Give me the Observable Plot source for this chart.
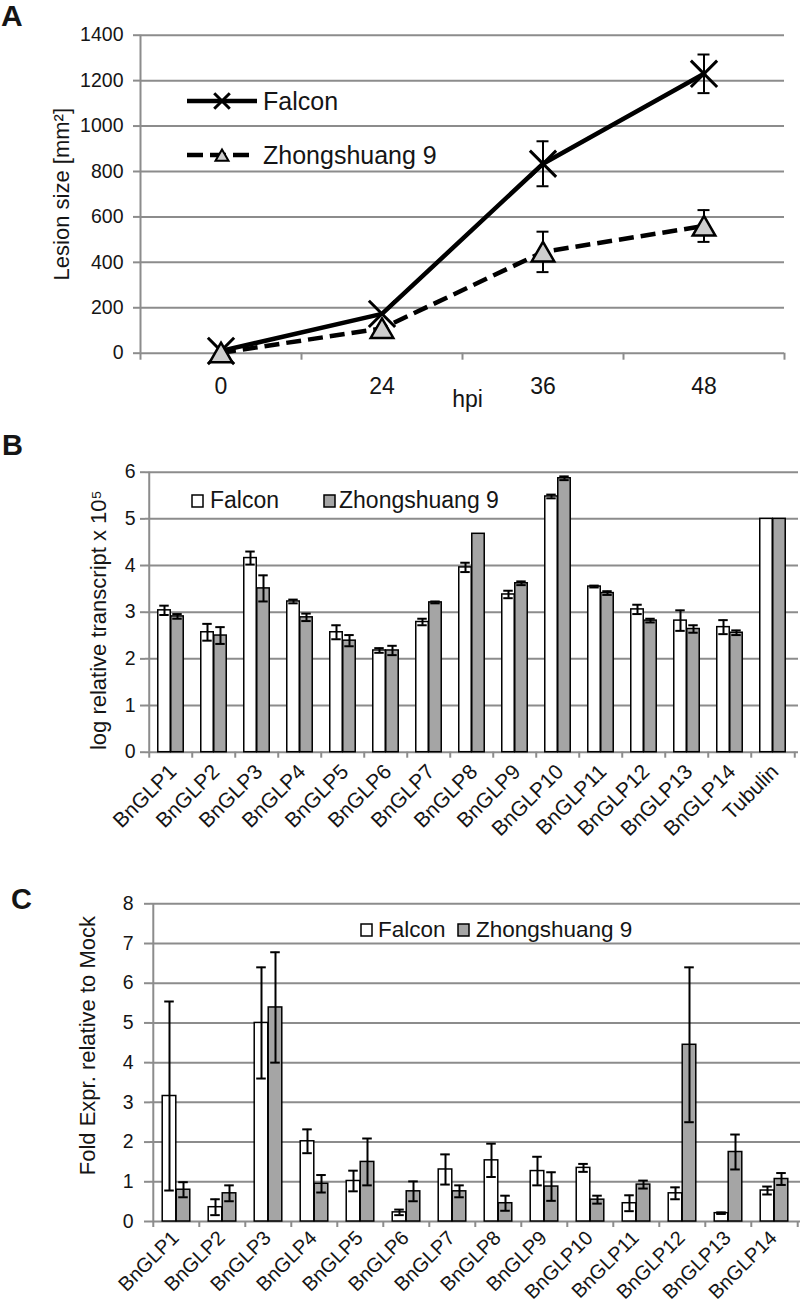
<!DOCTYPE html>
<html><head><meta charset="utf-8">
<script src="https://cdn.jsdelivr.net/npm/d3@7"></script>
<script src="https://cdn.jsdelivr.net/npm/@observablehq/plot@0.6"></script>
<style>
body{margin:0;background:#fff;}
#wrap{position:relative;width:800px;height:1309px;overflow:hidden;background:#fff;font-family:"Liberation Sans",Arial,Helvetica,sans-serif;}
#wrap svg{position:absolute;left:0;}
</style></head><body><div id="wrap"></div>
<script>
// ---------- data ----------
const hpi = ["0", "24", "36", "48"];
const falconLesion = [10, 173, 834, 1230];
const falconLesionErr = [0, 0, 99, 85];
const zs9Lesion = [2, 109, 446, 560];
const zs9LesionErr = [0, 0, 89, 70];
const lesionTicks = [0, 200, 400, 600, 800, 1000, 1200, 1400];

const genesB = ["BnGLP1","BnGLP2","BnGLP3","BnGLP4","BnGLP5","BnGLP6","BnGLP7","BnGLP8","BnGLP9","BnGLP10","BnGLP11","BnGLP12","BnGLP13","BnGLP14","Tubulin"];
const falconB = [3.04, 2.57, 4.16, 3.23, 2.57, 2.18, 2.79, 3.96, 3.38, 5.48, 3.55, 3.06, 2.82, 2.68, 5.0];
const falconBErr = [0.10, 0.18, 0.14, 0.04, 0.15, 0.05, 0.07, 0.10, 0.08, 0.04, 0.02, 0.10, 0.22, 0.15, 0];
const zs9B = [2.91, 2.50, 3.51, 2.89, 2.39, 2.18, 3.21, 4.68, 3.62, 5.87, 3.41, 2.82, 2.64, 2.56, 5.0];
const zs9BErr = [0.05, 0.18, 0.28, 0.08, 0.12, 0.10, 0.02, 0, 0.04, 0.04, 0.04, 0.04, 0.08, 0.05, 0];
const ticksB = [0, 1, 2, 3, 4, 5, 6];

const genesC = ["BnGLP1","BnGLP2","BnGLP3","BnGLP4","BnGLP5","BnGLP6","BnGLP7","BnGLP8","BnGLP9","BnGLP10","BnGLP11","BnGLP12","BnGLP13","BnGLP14"];
const falconC = [3.16, 0.36, 5.00, 2.02, 1.02, 0.23, 1.31, 1.54, 1.27, 1.35, 0.46, 0.71, 0.21, 0.78];
const falconCErr = [2.38, 0.20, 1.40, 0.30, 0.26, 0.07, 0.38, 0.42, 0.36, 0.10, 0.20, 0.15, 0.02, 0.10];
const zs9C = [0.80, 0.71, 5.39, 0.95, 1.50, 0.76, 0.76, 0.46, 0.88, 0.55, 0.93, 4.45, 1.75, 1.07];
const zs9CErr = [0.19, 0.20, 1.39, 0.22, 0.59, 0.25, 0.15, 0.19, 0.36, 0.10, 0.10, 1.95, 0.44, 0.15];
const ticksC = [0, 1, 2, 3, 4, 5, 6, 7, 8];

const seriesNames = ["Falcon", "Zhongshuang 9"];

// ---------- style ----------
const GRID = "#8c8c8c", BAR_GRAY = "#a5a5a5", TRI_GRAY = "#cdcdcd", INK = "#151515";
const FONT = "'Liberation Sans', Arial, Helvetica, sans-serif";
const W = 800;
const fmt = d => String(d);
const wrap = document.getElementById("wrap");
function place(node, top) { node.style.top = top + "px"; wrap.appendChild(node); }

// ---------- panel A ----------
const A = {top: 0, height: 415, mt: 34.7, mb: 62.3, ml: 140, mr: 16};
const bwA = (W - A.ml - A.mr) / hpi.length;
const falconRows = hpi.map((h, i) => ({hpi: h, value: falconLesion[i], err: falconLesionErr[i]}));
const zs9Rows = hpi.map((h, i) => ({hpi: h, value: zs9Lesion[i], err: zs9LesionErr[i]}));
const errA = [...falconRows, ...zs9Rows].filter(d => d.err > 0);
const capsA = errA.flatMap(d => [{hpi: d.hpi, y: d.value + d.err}, {hpi: d.hpi, y: d.value - d.err}]);

const plotA = Plot.plot({
  width: W, height: A.height, marginTop: A.mt, marginBottom: A.mb, marginLeft: A.ml, marginRight: A.mr,
  style: {fontFamily: FONT, fontSize: "19px", background: "white", color: INK, overflow: "visible"},
  x: {type: "band", domain: hpi, padding: 0},
  y: {domain: [0, 1400]},
  marks: [
    Plot.ruleY(lesionTicks, {stroke: GRID, strokeWidth: 2}),
    Plot.ruleX([hpi[0]], {x: d => d, y1: 0, y2: 1400, dx: -bwA / 2, stroke: GRID, strokeWidth: 2}),
    Plot.ruleX(hpi, {x: d => d, y1: 0, y2: 0, insetBottom: -7, dx: -bwA / 2, stroke: GRID, strokeWidth: 2}),
    Plot.ruleX([hpi[hpi.length - 1]], {x: d => d, y1: 0, y2: 0, insetBottom: -7, dx: bwA / 2, stroke: GRID, strokeWidth: 2}),
    Plot.axisY({ticks: lesionTicks, tickFormat: fmt, tickSize: 7, tickPadding: 10, stroke: GRID, strokeWidth: 2, fill: INK, fontSize: 19.5, label: null}),
    Plot.axisX({tickSize: 0, tickPadding: 24, fill: INK, fontSize: 23, label: null}),
    Plot.text(["hpi"], {text: d => d, frameAnchor: "bottom", textAnchor: "middle", lineAnchor: "middle", dx: 5, dy: 46, fontSize: 23, fill: INK}),
    Plot.text(["Lesion size [mm²]"], {text: d => d, frameAnchor: "left", textAnchor: "middle", lineAnchor: "middle", rotate: -90, dx: -79, fontSize: 22, fill: INK}),
    Plot.line(zs9Rows, {x: "hpi", y: "value", stroke: "black", strokeWidth: 4.5, strokeDasharray: "15,7", strokeLinecap: "butt"}),
    Plot.line(falconRows, {x: "hpi", y: "value", stroke: "black", strokeWidth: 4.5}),
    Plot.ruleX(errA, {x: "hpi", y1: d => d.value - d.err, y2: d => d.value + d.err, stroke: "black", strokeWidth: 2}),
    Plot.tickY(capsA, {x: "hpi", y: "y", insetLeft: bwA / 2 - 6, insetRight: bwA / 2 - 6, stroke: "black", strokeWidth: 2}),
    Plot.dot(falconRows, {x: "hpi", y: "value", symbol: "times", r: 12, stroke: "black", strokeWidth: 3}),
    Plot.dot(zs9Rows, {x: "hpi", y: "value", symbol: "triangle", r: 8.4, dy: 3, fill: TRI_GRAY, stroke: "black", strokeWidth: 2.5})
  ]
});
place(plotA, A.top);

// ---------- bar panels ----------
function barPanel(cfg) {
  const {genes, falcon, falconErr, zs9, zs9Err, ticks, yMax, height, mt, mb, ml, mr, barW, capW,
         tickSize, tickPadding, labelPadding, labelDx, labelSize, title, titleDx, titleDy, titleSize} = cfg;
  const bw = (W - ml - mr) / genes.length;
  const rowsF = genes.map((g, i) => ({gene: g, value: falcon[i], err: falconErr[i]}));
  const rowsZ = genes.map((g, i) => ({gene: g, value: zs9[i], err: zs9Err[i]}));
  const errF = rowsF.filter(d => d.err > 0), errZ = rowsZ.filter(d => d.err > 0);
  const caps = rows => rows.flatMap(d => [{gene: d.gene, y: d.value + d.err}, {gene: d.gene, y: d.value - d.err}]);
  const capInset = bw / 2 - capW / 2;
  return Plot.plot({
    width: W, height, marginTop: mt, marginBottom: mb, marginLeft: ml, marginRight: mr,
    style: {fontFamily: FONT, fontSize: "19px", background: "white", color: INK, overflow: "visible"},
    x: {type: "band", domain: genes, padding: 0},
    y: {domain: [0, yMax]},
    marks: [
      Plot.ruleY(ticks, {stroke: GRID, strokeWidth: 2}),
      Plot.ruleX([genes[0]], {x: d => d, y1: 0, y2: yMax, dx: -bw / 2, stroke: GRID, strokeWidth: 2}),
      Plot.ruleX(genes, {x: d => d, y1: 0, y2: 0, insetBottom: -6, dx: -bw / 2, stroke: GRID, strokeWidth: 2}),
      Plot.ruleX([genes[genes.length - 1]], {x: d => d, y1: 0, y2: 0, insetBottom: -6, dx: bw / 2, stroke: GRID, strokeWidth: 2}),
      Plot.axisY({ticks, tickFormat: fmt, tickSize, tickPadding, stroke: GRID, strokeWidth: 2, fill: INK, fontSize: 19.5, label: null}),
      Plot.axisX({tickSize: 0, tickPadding: labelPadding, dx: labelDx, tickRotate: -45, fill: INK, fontSize: labelSize, label: null}),
      Plot.text([title], {text: d => d, frameAnchor: "left", textAnchor: "middle", lineAnchor: "middle", rotate: -90, dx: titleDx, dy: titleDy, fontSize: titleSize, fill: INK}),
      Plot.barY(rowsF, {x: "gene", y: "value", insetLeft: bw / 2 - barW, insetRight: bw / 2, fill: "white", stroke: "black", strokeWidth: 1.5}),
      Plot.barY(rowsZ, {x: "gene", y: "value", insetLeft: bw / 2, insetRight: bw / 2 - barW, fill: BAR_GRAY, stroke: "black", strokeWidth: 1.5}),
      Plot.ruleX(errF, {x: "gene", y1: d => d.value - d.err, y2: d => d.value + d.err, dx: -barW / 2, stroke: "black", strokeWidth: 2}),
      Plot.ruleX(errZ, {x: "gene", y1: d => d.value - d.err, y2: d => d.value + d.err, dx: barW / 2, stroke: "black", strokeWidth: 2}),
      Plot.tickY(caps(errF), {x: "gene", y: "y", insetLeft: capInset, insetRight: capInset, dx: -barW / 2, stroke: "black", strokeWidth: 2}),
      Plot.tickY(caps(errZ), {x: "gene", y: "y", insetLeft: capInset, insetRight: capInset, dx: barW / 2, stroke: "black", strokeWidth: 2})
    ]
  });
}

const plotB = barPanel({
  genes: genesB, falcon: falconB, falconErr: falconBErr, zs9: zs9B, zs9Err: zs9BErr, ticks: ticksB, yMax: 6,
  height: 450, mt: 56.7, mb: 113.3, ml: 145, mr: 2, barW: 13, capW: 10, tickSize: 5, tickPadding: 5,
  labelPadding: 16, labelDx: 2, labelSize: 21,
  title: "log relative transcript x 10⁵", titleDx: -47, titleDy: 8, titleSize: 22
});
place(plotB, 415);

const plotC = barPanel({
  genes: genesC, falcon: falconC, falconErr: falconCErr, zs9: zs9C, zs9Err: zs9CErr, ticks: ticksC, yMax: 8,
  height: 444, mt: 38.3, mb: 88, ml: 150, mr: 0, barW: 14, capW: 10, tickSize: 6, tickPadding: 11,
  labelPadding: 13, labelDx: -1, labelSize: 20,
  title: "Fold Expr. relative to Mock", titleDx: -63, titleDy: -17, titleSize: 22
});
place(plotC, 865);

// ---------- overlay: panel letters and legends ----------
const ov = d3.create("svg").attr("width", W).attr("height", 1309)
  .style("top", "0px").style("font-family", FONT);
ov.append("text").attr("x", 1).attr("y", 26).attr("font-size", 30).attr("font-weight", "bold").attr("fill", INK).text("A");
ov.append("text").attr("x", 2).attr("y", 455).attr("font-size", 29).attr("font-weight", "bold").attr("fill", INK).text("B");
ov.append("text").attr("x", 11).attr("y", 909).attr("font-size", 29).attr("font-weight", "bold").attr("fill", INK).text("C");

// legend A
ov.append("line").attr("x1", 187).attr("x2", 257).attr("y1", 101).attr("y2", 101).attr("stroke", "black").attr("stroke-width", 4.5);
ov.append("path").attr("d", d3.symbol(d3.symbolTimes, 160)()).attr("transform", "translate(222,101)")
  .attr("fill", "none").attr("stroke", "black").attr("stroke-width", 3);
ov.append("text").attr("x", 263).attr("y", 110).attr("font-size", 25).attr("fill", INK).text(seriesNames[0]);
ov.append("line").attr("x1", 187).attr("x2", 249).attr("y1", 155).attr("y2", 155).attr("stroke", "black").attr("stroke-width", 4.5).attr("stroke-dasharray", "16,7");
ov.append("path").attr("d", d3.symbol(d3.symbolTriangle, 73)()).attr("transform", "translate(222,157)")
  .attr("fill", TRI_GRAY).attr("stroke", "black").attr("stroke-width", 2);
ov.append("text").attr("x", 263).attr("y", 164).attr("font-size", 25).attr("fill", INK).text(seriesNames[1]);

// legend B
function sq(x, y, fill) { ov.append("rect").attr("x", x).attr("y", y).attr("width", 11).attr("height", 12).attr("fill", fill).attr("stroke", "black").attr("stroke-width", 1.5); }
sq(192, 495, "white");
ov.append("text").attr("x", 210).attr("y", 508).attr("font-size", 23).attr("fill", INK).text(seriesNames[0]);
sq(324, 495, BAR_GRAY);
ov.append("text").attr("x", 339).attr("y", 508).attr("font-size", 23).attr("fill", INK).text(seriesNames[1]);

// legend C
sq(361, 924, "white");
ov.append("text").attr("x", 378).attr("y", 937).attr("font-size", 22.5).attr("fill", INK).text(seriesNames[0]);
sq(458, 924, BAR_GRAY);
ov.append("text").attr("x", 476).attr("y", 937).attr("font-size", 22.5).attr("fill", INK).text(seriesNames[1]);

place(ov.node(), 0);
</script></body></html>
